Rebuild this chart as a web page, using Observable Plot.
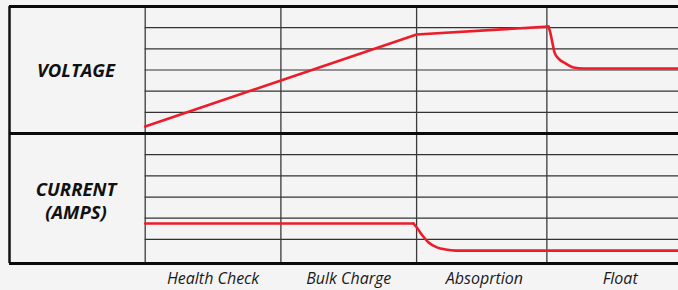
<!DOCTYPE html>
<html><head><meta charset="utf-8">
<script src="https://cdn.jsdelivr.net/npm/d3@7"></script>
<script src="https://cdn.jsdelivr.net/npm/@observablehq/plot@0.6"></script>
<style>
html,body{margin:0;padding:0;background:#f4f4f4;}
#chart svg{display:block;}
</style></head><body><div id="chart"></div>
<script>
// Stages (x in stage units; each stage ~1 unit)
const stages = ["Health Check", "Bulk Charge", "Absoprtion", "Float"];
const stageCenters = [0.5, 1.5, 2.5, 3.5];
const stageBounds = [0, 1, 2, 2.96];
const xEnd = 3.93;

// Panels (each panel has 6 grid divisions)
const panelNames = ["VOLTAGE", "CURRENT\n(AMPS)"];
const panelOffsets = [6, 0];
const panelLabelY = [3, 2.84];
const gridDivs = [1, 2, 3, 4, 5];

// Voltage curve (grid divisions within the voltage panel)
const voltX = [0, 2.0, 2.972, 2.987, 3.002, 3.016, 3.046, 3.097, 3.156, 3.23, 3.93];
const voltY = [0.33, 4.68, 5.05, 4.72, 4.25, 3.83, 3.54, 3.31, 3.12, 3.07, 3.07];
const voltKnee = 2; // index where the decay starts

// Current curve (grid divisions within the current panel)
const currX = [0, 1.977, 2.007, 2.043, 2.088, 2.154, 2.213, 2.287, 3.93];
const currY = [1.75, 1.75, 1.51, 1.18, 0.85, 0.61, 0.52, 0.47, 0.47];
const currKnee = 1;

const voltage = voltX.map((x, i) => ({x, y: voltY[i] + panelOffsets[0]}));
const current = currX.map((x, i) => ({x, y: currY[i] + panelOffsets[1]}));
const panels = panelNames.map((name, i) => ({name, y: panelLabelY[i] + panelOffsets[i]}));
const hGrid = panelOffsets.flatMap(o => gridDivs.map(d => d + o));
const yBottom = -0.14, yTop = 12;
const red = "#ec1c2a";

const chart = Plot.plot({
  width: 678, height: 290,
  marginLeft: 9, marginRight: 0, marginTop: 6, marginBottom: 27,
  style: {background: "#f4f4f4", fontFamily: "'Open Sans', sans-serif", color: "#111"},
  x: {domain: [-1, xEnd], axis: null},
  y: {domain: [yBottom, yTop], axis: null},
  marks: [
    Plot.ruleY(hGrid, {x1: 0, x2: xEnd, stroke: "#333", strokeWidth: 1.2}),
    Plot.ruleX(stageBounds, {y1: yBottom, y2: yTop, stroke: "#3a3a3a", strokeWidth: 1.3}),
    Plot.ruleX([-1], {y1: yBottom, y2: yTop, stroke: "#111", strokeWidth: 2.5}),
    Plot.ruleY([yTop, 6, yBottom], {x1: -1, x2: xEnd, stroke: "#0a0a0a", strokeWidth: 3}),
    Plot.line(voltage.slice(0, voltKnee + 1), {x: "x", y: "y", stroke: red, strokeWidth: 2.6}),
    Plot.line(voltage.slice(voltKnee), {x: "x", y: "y", stroke: red, strokeWidth: 2.6, curve: "monotone-x"}),
    Plot.line(current.slice(0, currKnee + 1), {x: "x", y: "y", stroke: red, strokeWidth: 2.6}),
    Plot.line(current.slice(currKnee), {x: "x", y: "y", stroke: red, strokeWidth: 2.6, curve: "monotone-x"}),
    Plot.text(panels, {x: -0.51, y: "y", text: "name", fontSize: 18.5, fontWeight: "bold", fontStyle: "italic", lineHeight: 1.22, fill: "#111"}),
    Plot.axisX(stageCenters, {tickFormat: d => stages[stageCenters.indexOf(d)], tickSize: 0, tickPadding: 9, fontSize: 16, fontStyle: "italic", fill: "#1a1a1a", label: null})
  ]
});
document.getElementById("chart").append(chart);
</script></body></html>
